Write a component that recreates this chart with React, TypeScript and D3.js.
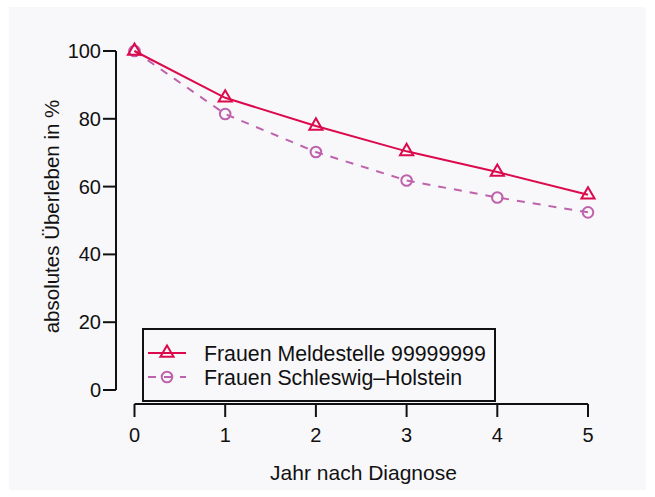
import React, { useEffect, useRef } from 'react';
import * as d3 from 'd3';

const years = [0, 1, 2, 3, 4, 5];
const meldestelle = [100, 86.2, 77.9, 70.4, 64.3, 57.6];
const schleswigHolstein = [100, 81.4, 70.2, 61.8, 56.8, 52.4];
const yTicks = [0, 20, 40, 60, 80, 100];
const seriesNames = ['Frauen Meldestelle 99999999', 'Frauen Schleswig\u2013Holstein'];

const App: React.FC = () => {
    const svgRef = useRef<SVGSVGElement>(null);

    useEffect(() => {
        if (!svgRef.current) return;

        const width = 655;
        const height = 497;
        const svg = d3.select(svgRef.current)
            .attr('width', width)
            .attr('height', height)
            .attr('viewBox', `0 0 ${width} ${height}`);

        svg.selectAll('*').remove();

        const font = '"Liberation Sans", Arial, Helvetica, sans-serif';
        const red = '#dc0a4c';
        const pink = '#bf62ac';

        // Background panel
        svg.append('rect')
            .attr('x', 9).attr('y', 7)
            .attr('width', 637).attr('height', 483)
            .attr('fill', '#f8f8fb');

        const x = d3.scaleLinear().domain([0, 5]).range([134.5, 588]);
        const y = d3.scaleLinear().domain([0, 100]).range([390, 51]);

        // Y axis (R style, offset)
        const axisX = 116;
        svg.append('line')
            .attr('x1', axisX).attr('x2', axisX)
            .attr('y1', y(0)).attr('y2', y(100))
            .attr('stroke', '#111').attr('stroke-width', 2);

        svg.selectAll('.ytick')
            .data(yTicks)
            .enter()
            .append('line')
            .attr('x1', axisX - 13).attr('x2', axisX)
            .attr('y1', d => y(d)).attr('y2', d => y(d))
            .attr('stroke', '#111').attr('stroke-width', 2);

        svg.selectAll('.ylabel')
            .data(yTicks)
            .enter()
            .append('text')
            .attr('x', axisX - 15)
            .attr('y', d => y(d) + 7)
            .attr('text-anchor', 'end')
            .attr('font-family', font)
            .attr('font-size', '20px')
            .attr('fill', '#111')
            .text(d => d);

        // X axis
        const axisY = 404;
        svg.append('line')
            .attr('x1', x(0)).attr('x2', x(5))
            .attr('y1', axisY).attr('y2', axisY)
            .attr('stroke', '#111').attr('stroke-width', 2);

        svg.selectAll('.xtick')
            .data(years)
            .enter()
            .append('line')
            .attr('x1', d => x(d)).attr('x2', d => x(d))
            .attr('y1', axisY).attr('y2', axisY + 13)
            .attr('stroke', '#111').attr('stroke-width', 2);

        svg.selectAll('.xlabel')
            .data(years)
            .enter()
            .append('text')
            .attr('x', d => x(d))
            .attr('y', 442)
            .attr('text-anchor', 'middle')
            .attr('font-family', font)
            .attr('font-size', '20px')
            .attr('fill', '#111')
            .text(d => d);

        // Axis titles
        svg.append('text')
            .attr('x', 363.5)
            .attr('y', 480)
            .attr('text-anchor', 'middle')
            .attr('font-family', font)
            .attr('font-size', '21px')
            .attr('fill', '#111')
            .text('Jahr nach Diagnose');

        svg.append('text')
            .attr('transform', `translate(59,216.5) rotate(-90)`)
            .attr('text-anchor', 'middle')
            .attr('font-family', font)
            .attr('font-size', '20.5px')
            .attr('fill', '#111')
            .text('absolutes \u00dcberleben in %');

        const line = d3.line<[number, number]>().x(d => x(d[0])).y(d => y(d[1]));
        const tri = d3.symbol().type(d3.symbolTriangle).size(75);

        // Schleswig-Holstein (dashed, circles)
        const sh = years.map((yr, i) => [yr, schleswigHolstein[i]] as [number, number]);
        svg.append('path')
            .attr('d', line(sh))
            .attr('fill', 'none')
            .attr('stroke', pink)
            .attr('stroke-width', 2)
            .attr('stroke-dasharray', '8,8');

        svg.selectAll('.circ')
            .data(sh)
            .enter()
            .append('circle')
            .attr('cx', d => x(d[0]))
            .attr('cy', d => y(d[1]))
            .attr('r', 5.3)
            .attr('fill', 'none')
            .attr('stroke', pink)
            .attr('stroke-width', 2);

        // Meldestelle (solid, triangles)
        const ms = years.map((yr, i) => [yr, meldestelle[i]] as [number, number]);
        svg.append('path')
            .attr('d', line(ms))
            .attr('fill', 'none')
            .attr('stroke', red)
            .attr('stroke-width', 2);

        svg.selectAll('.tri')
            .data(ms)
            .enter()
            .append('path')
            .attr('d', tri)
            .attr('transform', d => `translate(${x(d[0])},${y(d[1])})`)
            .attr('fill', 'none')
            .attr('stroke', red)
            .attr('stroke-width', 2);

        // Legend
        const lg = svg.append('g');
        lg.append('rect')
            .attr('x', 143).attr('y', 329)
            .attr('width', 352).attr('height', 72)
            .attr('fill', '#f8f8fb')
            .attr('stroke', '#111')
            .attr('stroke-width', 2);

        const rows = [
            { name: seriesNames[0], color: red, dash: null, marker: 'tri', cy: 353 },
            { name: seriesNames[1], color: pink, dash: '8,8', marker: 'circ', cy: 377 }
        ];

        rows.forEach(r => {
            lg.append('line')
                .attr('x1', 148).attr('x2', 186)
                .attr('y1', r.cy).attr('y2', r.cy)
                .attr('stroke', r.color)
                .attr('stroke-width', 2)
                .attr('stroke-dasharray', r.dash);
            if (r.marker === 'tri') {
                lg.append('path')
                    .attr('d', tri)
                    .attr('transform', `translate(167,${r.cy})`)
                    .attr('fill', 'none')
                    .attr('stroke', r.color)
                    .attr('stroke-width', 2);
            } else {
                lg.append('circle')
                    .attr('cx', 167).attr('cy', r.cy)
                    .attr('r', 5.3)
                    .attr('fill', 'none')
                    .attr('stroke', r.color)
                    .attr('stroke-width', 2);
            }
            lg.append('text')
                .attr('x', 204)
                .attr('y', r.cy + 7.5)
                .attr('font-family', font)
                .attr('font-size', '21.3px')
                .attr('fill', '#111')
                .text(r.name);
        });
    }, []);

    return (
        <div style={{ position: 'absolute', left: 0, top: 0, background: '#fff' }}>
            <svg ref={svgRef} style={{ display: 'block' }} />
        </div>
    );
};

export default App;
